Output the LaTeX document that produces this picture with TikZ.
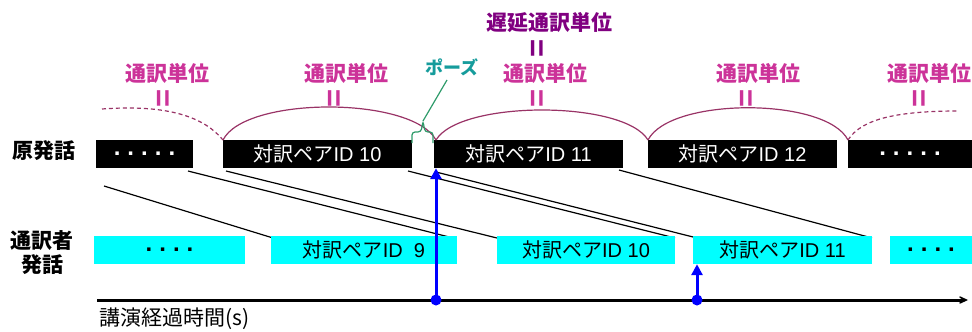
\documentclass[tikz,border=0pt]{standalone}
\usepackage{fontspec}
\setmainfont{Liberation Sans}
\newfontfamily\jp{Noto Sans CJK JP}
\usetikzlibrary{arrows.meta}
\definecolor{unitpink}{HTML}{CC3399}
\definecolor{delaypurple}{HTML}{800080}
\definecolor{arcpurple}{HTML}{993366}
\definecolor{pauseteal}{HTML}{169C9C}
\definecolor{bracegreen}{HTML}{2E9B6A}
\definecolor{boxcyan}{HTML}{00FFFF}
\tikzset{
  srcbox/.style={fill=black, text=white, minimum height=28pt, inner sep=0pt, font=\fontsize{20}{24}\selectfont},
  tgtbox/.style={fill=boxcyan, text=black, minimum height=28pt, inner sep=0pt, font=\fontsize{20}{24}\selectfont},
  dotsfont/.style={font=\bfseries\fontsize{24}{26}\selectfont},
  rowlabel/.style={font=\jp\bfseries\fontsize{21}{24}\selectfont, align=center, inner sep=0pt},
  unitlabel/.style={text=unitpink, font=\jp\bfseries\fontsize{21}{25}\selectfont, inner sep=0pt},
  delaylabel/.style={text=delaypurple, font=\jp\bfseries\fontsize{21}{25}\selectfont, inner sep=0pt},
  eqmark/.style={rotate=90, inner sep=0pt, font=\bfseries\fontsize{31}{32}\selectfont},
  arcline/.style={draw=arcpurple, line width=1.2pt},
  diag/.style={draw=black, line width=1.2pt},
  bluearrow/.style={draw=blue, line width=3pt, -{Triangle[length=11pt,width=11pt]}},
  bluedot/.style={circle, fill=blue, inner sep=0pt, minimum size=11pt},
}
\begin{document}
\begin{tikzpicture}[x=1pt,y=-1pt]
\useasboundingbox (0,0) rectangle (972,332);

% diagonal connectors (drawn first, under the boxes)
\coordinate (a1) at (104,186); \coordinate (b1) at (273,238);
\coordinate (a2) at (188,171); \coordinate (b2) at (453,238);
\coordinate (a3) at (226,171); \coordinate (b3) at (497,238);
\coordinate (a4) at (408,171); \coordinate (b4) at (675,238);
\coordinate (a5) at (436,172); \coordinate (b5) at (697,238);
\coordinate (a6) at (619,170); \coordinate (b6) at (872,238);
\foreach \i in {1,...,6} { \draw[diag] (a\i) -- (b\i); }

% source row
\node[srcbox, minimum width=97pt, dotsfont, text=white] (s1) at (144.5,154) {.\hspace{7pt}.\hspace{7pt}.\hspace{7pt}.\hspace{7pt}.};
\node[srcbox, minimum width=189pt] (s2) at (317.5,154) {{\jp 対訳ペア}ID 10};
\node[srcbox, minimum width=189pt] (s3) at (528.5,154) {{\jp 対訳ペア}ID 11};
\node[srcbox, minimum width=189pt] (s4) at (742.5,154) {{\jp 対訳ペア}ID 12};
\node[srcbox, minimum width=124pt, dotsfont, text=white] (s5) at (910,154) {.\hspace{7pt}.\hspace{7pt}.\hspace{7pt}.\hspace{7pt}.};

% target row
\node[tgtbox, minimum width=151pt, dotsfont] (t1) at (169.5,250) {.\hspace{7pt}.\hspace{7pt}.\hspace{7pt}.};
\node[tgtbox, minimum width=186pt] (t2) at (364,250) {{\jp 対訳ペア}ID\ \ 9};
\node[tgtbox, minimum width=178pt] (t3) at (586,250) {{\jp 対訳ペア}ID 10};
\node[tgtbox, minimum width=179pt] (t4) at (782.5,250) {{\jp 対訳ペア}ID 11};
\node[tgtbox, minimum width=82pt, dotsfont] (t5) at (931,250) {.\hspace{7pt}.\hspace{7pt}.\hspace{7pt}.};

% row labels
\node[rowlabel] (lsrc) at (44,151) {原発話};
\node[rowlabel] (ltgt) at (42,253) {通訳者\\発話};

% time axis
\coordinate (ax0) at (97,300);
\coordinate (ax1) at (968,300);
\draw[line width=3pt, -{Stealth[length=14pt,width=13pt,inset=9pt]}] (ax0) -- (ax1);
\node[anchor=west, inner sep=0pt, font=\jp\fontsize{21}{24}\selectfont] (axlabel) at (99,319) {講演経過時間(s)};

% blue markers
\node[bluedot] (d1) at (436,300) {};
\node[bluedot] (d2) at (697,300) {};
\draw[bluearrow] (d1.center) -- (s3.south west -| d1);
\draw[bluearrow] (d2.center) -- (t4.south west -| d2);

% unit arcs
\coordinate (c0) at (102,109);
\coordinate (c1) at (223,140);
\coordinate (c2) at (436,140);
\coordinate (c3) at (648,140);
\coordinate (c4) at (848,140);
\coordinate (c5) at (959,111);
\draw[arcline, dashed, dash pattern=on 4pt off 3pt] (c0) .. controls (170,104) and (205,118) .. (c1);
\draw[arcline] (c1) .. controls (245,96) and (412,96) .. (c2);
\draw[arcline] (c2) .. controls (460,100) and (624,100) .. (c3);
\draw[arcline] (c3) .. controls (670,97) and (826,97) .. (c4);
\draw[arcline, dashed, dash pattern=on 4pt off 3pt] (c4) .. controls (862,118) and (900,111) .. (c5);

% unit labels
\node[unitlabel] (u1) at (167,73) {通訳単位};
\node[eqmark, text=unitpink] (e1) at (165,98) {=};
\node[unitlabel] (u2) at (346,73) {通訳単位};
\node[eqmark, text=unitpink] (e2) at (336,98) {=};
\node[unitlabel] (u3) at (545,73) {通訳単位};
\node[eqmark, text=unitpink] (e3) at (539,98) {=};
\node[unitlabel] (u4) at (758,73) {通訳単位};
\node[eqmark, text=unitpink] (e4) at (748,98) {=};
\node[unitlabel] (u5) at (929,73) {通訳単位};
\node[eqmark, text=unitpink] (e5) at (921,98) {=};
\node[delaylabel] (dl) at (549,23) {遅延通訳単位};
\node[eqmark, text=delaypurple] (e6) at (539,48) {=};

% pause brace
\coordinate (ptip) at (423,121);
\draw[draw=bracegreen, line width=1.2pt, rounded corners=3pt]
  (412,143) -- (412,132) -- (421,132) -- (ptip) -- (425,132) -- (433,132) -- (433,143);
\node[inner sep=0pt, text=pauseteal, font=\jp\bfseries\fontsize{18}{20}\selectfont] (pause) at (452,67) {ポーズ};
\coordinate (pl) at (447,80);
\draw[draw=bracegreen, line width=1.2pt] (pl) -- (ptip);
\end{tikzpicture}
\end{document}
